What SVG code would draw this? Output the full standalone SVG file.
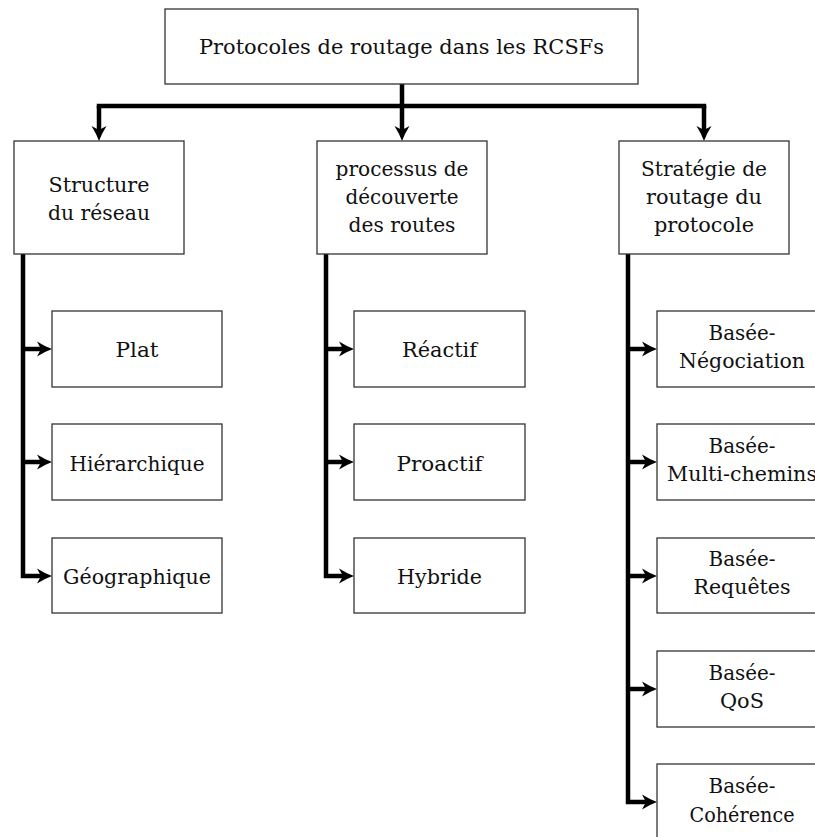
<svg xmlns="http://www.w3.org/2000/svg" width="815" height="837" viewBox="0 0 815 837">
  <style>
    .box { fill: #ffffff; stroke: #333333; stroke-width: 1.3; }
    text { font-family: 'DejaVu Serif', 'Liberation Serif', serif; font-size: 21px; fill: #111111; text-anchor: middle; }
    .ln { fill: none; stroke: #000000; stroke-width: 4.5; stroke-linejoin: miter; }
    .bar { fill: none; stroke: #000000; stroke-width: 4.5; stroke-linecap: square; }
  </style>
  <defs>
    <marker id="arr" markerUnits="userSpaceOnUse" markerWidth="18" markerHeight="18" refX="8" refY="8" orient="auto" overflow="visible">
      <path d="M0,0.5 Q8,5.5 15,8 Q8,10.5 0,15.5 L4,8 Z" fill="#000000"/>
    </marker>
  </defs>
  <rect width="815" height="837" fill="#ffffff"/>

  <g id="connectors">
    <path class="ln" d="M402,84 V106"/>
    <path class="bar" d="M99,106 H704"/>
    <path class="ln" d="M99,106 V134" marker-end="url(#arr)"/>
    <path class="ln" d="M402,106 V134" marker-end="url(#arr)"/>
    <path class="ln" d="M704,106 V134" marker-end="url(#arr)"/>

    <path class="ln" d="M23,254 V576 H45" marker-end="url(#arr)"/>
    <path class="ln" d="M23,349 H45" marker-end="url(#arr)"/>
    <path class="ln" d="M23,462 H45" marker-end="url(#arr)"/>

    <path class="ln" d="M326,254 V576 H347" marker-end="url(#arr)"/>
    <path class="ln" d="M326,349 H347" marker-end="url(#arr)"/>
    <path class="ln" d="M326,462 H347" marker-end="url(#arr)"/>

    <path class="ln" d="M628,254 V802 H650" marker-end="url(#arr)"/>
    <path class="ln" d="M628,349 H650" marker-end="url(#arr)"/>
    <path class="ln" d="M628,462 H650" marker-end="url(#arr)"/>
    <path class="ln" d="M628,576 H650" marker-end="url(#arr)"/>
    <path class="ln" d="M628,689 H650" marker-end="url(#arr)"/>
  </g>

  <g id="root">
    <rect class="box" x="165" y="9" width="473" height="75"/>
    <text x="401.5" y="54" textLength="405" lengthAdjust="spacingAndGlyphs">Protocoles de routage dans les RCSFs</text>
  </g>

  <g id="structure">
    <rect class="box" x="14" y="141" width="170" height="113"/>
    <text x="99" y="192" textLength="101" lengthAdjust="spacingAndGlyphs">Structure</text>
    <text x="99" y="220" textLength="102" lengthAdjust="spacingAndGlyphs">du réseau</text>
  </g>
  <g id="processus">
    <rect class="box" x="317" y="141" width="170" height="113"/>
    <text x="402" y="176" textLength="133" lengthAdjust="spacingAndGlyphs">processus de</text>
    <text x="402" y="204" textLength="113" lengthAdjust="spacingAndGlyphs">découverte</text>
    <text x="402" y="232" textLength="107" lengthAdjust="spacingAndGlyphs">des routes</text>
  </g>
  <g id="strategie">
    <rect class="box" x="619" y="141" width="170" height="113"/>
    <text x="704" y="176" textLength="126" lengthAdjust="spacingAndGlyphs">Stratégie de</text>
    <text x="704" y="204" textLength="116" lengthAdjust="spacingAndGlyphs">routage du</text>
    <text x="704" y="232" textLength="100" lengthAdjust="spacingAndGlyphs">protocole</text>
  </g>

  <g id="plat">
    <rect class="box" x="52" y="311" width="170" height="76"/>
    <text x="137" y="357" textLength="43" lengthAdjust="spacingAndGlyphs">Plat</text>
  </g>
  <g id="hierarchique">
    <rect class="box" x="52" y="424" width="170" height="76"/>
    <text x="137" y="471" textLength="135" lengthAdjust="spacingAndGlyphs">Hiérarchique</text>
  </g>
  <g id="geographique">
    <rect class="box" x="52" y="538" width="170" height="75"/>
    <text x="137" y="584" textLength="148" lengthAdjust="spacingAndGlyphs">Géographique</text>
  </g>

  <g id="reactif">
    <rect class="box" x="354" y="311" width="171" height="76"/>
    <text x="439.5" y="357" textLength="75" lengthAdjust="spacingAndGlyphs">Réactif</text>
  </g>
  <g id="proactif">
    <rect class="box" x="354" y="424" width="171" height="76"/>
    <text x="439.5" y="471" textLength="86" lengthAdjust="spacingAndGlyphs">Proactif</text>
  </g>
  <g id="hybride">
    <rect class="box" x="354" y="538" width="171" height="75"/>
    <text x="439.5" y="584" textLength="85" lengthAdjust="spacingAndGlyphs">Hybride</text>
  </g>

  <g id="negociation">
    <rect class="box" x="657" y="311" width="170" height="76"/>
    <text x="742" y="340" textLength="67" lengthAdjust="spacingAndGlyphs">Basée-</text>
    <text x="742" y="368" textLength="126" lengthAdjust="spacingAndGlyphs">Négociation</text>
  </g>
  <g id="multichemins">
    <rect class="box" x="657" y="424" width="170" height="76"/>
    <text x="742" y="453" textLength="67" lengthAdjust="spacingAndGlyphs">Basée-</text>
    <text x="742" y="481" textLength="150" lengthAdjust="spacingAndGlyphs">Multi-chemins</text>
  </g>
  <g id="requetes">
    <rect class="box" x="657" y="538" width="170" height="75"/>
    <text x="742" y="566" textLength="67" lengthAdjust="spacingAndGlyphs">Basée-</text>
    <text x="742" y="594" textLength="97" lengthAdjust="spacingAndGlyphs">Requêtes</text>
  </g>
  <g id="qos">
    <rect class="box" x="657" y="651" width="170" height="76"/>
    <text x="742" y="680" textLength="67" lengthAdjust="spacingAndGlyphs">Basée-</text>
    <text x="742" y="708" textLength="44" lengthAdjust="spacingAndGlyphs">QoS</text>
  </g>
  <g id="coherence">
    <rect class="box" x="657" y="764" width="170" height="76"/>
    <text x="742" y="793" textLength="67" lengthAdjust="spacingAndGlyphs">Basée-</text>
    <text x="742" y="822" textLength="105" lengthAdjust="spacingAndGlyphs">Cohérence</text>
  </g>
</svg>
